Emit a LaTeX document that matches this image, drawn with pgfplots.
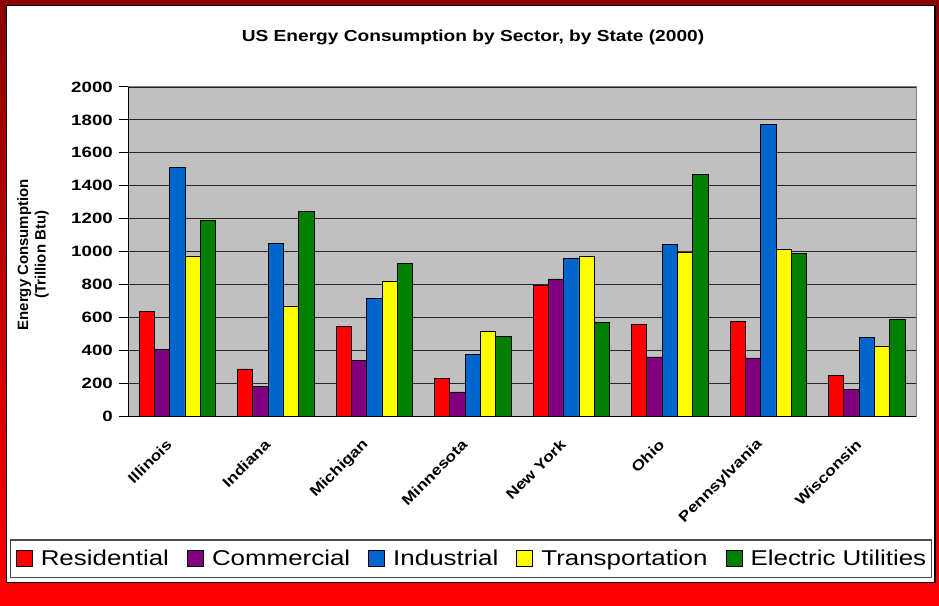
\documentclass[border=0pt]{standalone}
\usepackage{pgfplots}
\pgfplotsset{compat=1.18}
\usepackage{graphicx}
\usepackage{fontspec}
\setmainfont{Liberation Sans}
\definecolor{cRes}{HTML}{FF0000}
\definecolor{cCom}{HTML}{800080}
\definecolor{cInd}{HTML}{0066CC}
\definecolor{cTra}{HTML}{FFFF00}
\definecolor{cEle}{HTML}{008000}
\definecolor{plotgray}{HTML}{C0C0C0}
\definecolor{framedark}{HTML}{8A0000}
\newcommand{\sx}[1]{\scalebox{1.25}[1]{#1}}
\newcommand{\lx}[1]{\scalebox{1.21}[1]{#1}}
\newcommand{\tx}[1]{\scalebox{1.2}[1]{#1}}
\begin{document}
\begin{tikzpicture}
\shade[top color=framedark, bottom color=red] (0,0) rectangle (939bp,606bp);
\draw[fill=white, draw=black, line width=1.5bp] (6.5bp,23.5bp) rectangle (935bp,600.5bp);
\draw[fill=white, draw=black!70, line width=1.2bp] (10.5bp,28.5bp) rectangle (931.5bp,66bp);
\begin{axis}[
  at={(128bp,190bp)}, anchor=south west,
  scale only axis, width=788bp, height=329bp,
  xmin=-0.5, xmax=7.5, ymin=0, ymax=2000,
  axis x line*=bottom, axis y line*=left,
  axis line style={black, line width=1bp},
  axis background/.style={fill=plotgray, draw=gray, line width=1bp},
  ybar, bar width=15.3bp,
  ytick={0,200,...,2000},
  yticklabel={\sx{\pgfmathprintnumber[assume math mode=true, 1000 sep={}]{\tick}}},
  yticklabel style={font=\fontsize{15}{18}\selectfont\bfseries, inner sep=0pt, xshift=-6bp},
  ymajorgrids, grid style={black!85, line width=0.8bp},
  xtick={0,...,7},
  xticklabels={\tx{Illinois},\tx{Indiana},\tx{Michigan},\tx{Minnesota},\tx{New York},\tx{Ohio},\tx{Pennsylvania},\tx{Wisconsin}},
  xticklabel style={font=\fontsize{14.5}{17}\selectfont\bfseries, xshift=-8bp, yshift=-17bp, rotate=45, anchor=east, inner sep=0pt},
  xtick style={draw=none},
  minor xtick={-0.5,0.5,...,7.5},
  tick align=outside, major tick length=9bp, minor tick length=5bp,
  tick style={black, line width=1bp},
  title={\tx{US Energy Consumption by Sector, by State (2000)}},
  title style={at={(rel axis cs:0.4378,1.134)}, anchor=center, font=\fontsize{16}{19}\selectfont\bfseries},
  ylabel={Energy Consumption\\(Trillion Btu)},
  every axis y label/.style={at={(rel axis cs:-0.1205,0.49)}, rotate=90, anchor=center, align=center, font=\fontsize{15}{17.5}\selectfont\bfseries},
  legend columns=5,
  legend style={at={(rel axis cs:0.4353,-0.434)}, anchor=center, draw=none, fill=none,
    font=\fontsize{21.5}{26}\selectfont,
    nodes={inner sep=0pt, anchor=west},
    /tikz/every odd column/.append style={column sep=8bp},
    /tikz/every even column/.append style={column sep=18bp}},
  legbox/.style={legend image code/.code={\draw[##1, draw=black, line width=1bp] (0bp,-8bp) rectangle (16bp,8bp);}},
  after end axis/.code={\draw[gray, line width=1bp] (rel axis cs:0,1) -- (rel axis cs:1,1) -- (rel axis cs:1,0);},
]
\addplot[fill=cRes, draw=black, line width=0.8bp, bar shift=-30.6bp, legbox] coordinates {(0,636) (1,286) (2,543) (3,227) (4,796) (5,559) (6,577) (7,245)};
\addlegendentry{\lx{Residential}}
\addplot[fill=cCom, draw=black, line width=0.8bp, bar shift=-15.3bp, legbox] coordinates {(0,407) (1,180) (2,336) (3,146) (4,833) (5,359) (6,353) (7,162)};
\addlegendentry{\lx{Commercial}}
\addplot[fill=cInd, draw=black, line width=0.8bp, bar shift=0bp, legbox] coordinates {(0,1512) (1,1050) (2,715) (3,375) (4,956) (5,1044) (6,1775) (7,478)};
\addlegendentry{\lx{Industrial}}
\addplot[fill=cTra, draw=black, line width=0.8bp, bar shift=15.3bp, legbox] coordinates {(0,973) (1,667) (2,821) (3,515) (4,968) (5,997) (6,1011) (7,424)};
\addlegendentry{\lx{Transportation}}
\addplot[fill=cEle, draw=black, line width=0.8bp, bar shift=30.6bp, legbox] coordinates {(0,1190) (1,1244) (2,930) (3,484) (4,569) (5,1467) (6,989) (7,588)};
\addlegendentry{\lx{Electric Utilities}}
\end{axis}
\end{tikzpicture}
\end{document}
